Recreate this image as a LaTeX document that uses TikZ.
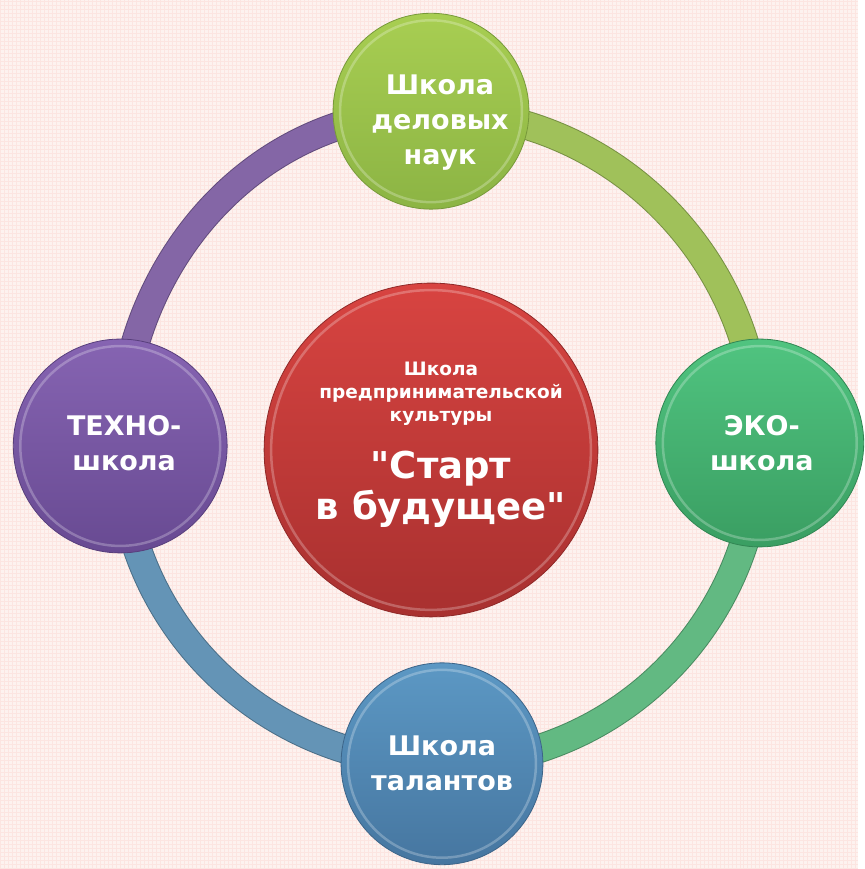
\documentclass[tikz,border=0pt]{standalone}
\usepackage{fontspec}
\setmainfont{DejaVu Sans}[Ligatures=TeXOff]
\usetikzlibrary{backgrounds}
\pgfdeclarelayer{bg}
\pgfsetlayers{bg,background,main}

\definecolor{bgpink}{RGB}{253,242,239}
\definecolor{gridpink}{RGB}{252,229,225}
\definecolor{redtop}{RGB}{216,68,65}
\definecolor{redbot}{RGB}{168,48,47}
\definecolor{limetop}{RGB}{168,206,82}
\definecolor{limebot}{RGB}{140,180,68}
\definecolor{greentop}{RGB}{80,196,128}
\definecolor{greenbot}{RGB}{58,158,98}
\definecolor{bluetop}{RGB}{92,152,196}
\definecolor{bluebot}{RGB}{70,118,160}
\definecolor{purpletop}{RGB}{134,100,178}
\definecolor{purplebot}{RGB}{104,74,146}
\definecolor{bandpurple}{RGB}{132,102,166}
\definecolor{bandlime}{RGB}{160,193,90}
\definecolor{bandgreen}{RGB}{98,185,130}
\definecolor{bandblue}{RGB}{100,148,182}

\tikzset{
	ball/.style 2 args={circle, inner sep=0pt, top color=#1, bottom color=#2, draw=#2!85!black, line width=.8pt},
	rim/.style={white, opacity=.25, line width=2.5pt},
	band/.style={draw=#1, line width=27pt, preaction={draw=#1!75!black, line width=29pt}},
	ballname/.style={text=white, align=center, font=\bfseries\fontsize{27}{35}\selectfont},
}

\begin{document}
\begin{tikzpicture}[x=1pt, y=1pt]

	\begin{pgfonlayer}{bg}
		\fill[bgpink] (0,0) rectangle (858,869);
		\draw[gridpink, line width=.6pt, step=4pt] (0,0) grid (858,869);
	\end{pgfonlayer}

	\node[ball={redtop}{redbot}, minimum size=334pt] (mid) at (431,419) {};
	\node[ball={limetop}{limebot}, minimum size=196pt] (top) at (431,758) {};
	\node[ball={purpletop}{purplebot}, minimum size=214pt] (left) at (120,423) {};
	\node[ball={greentop}{greenbot}, minimum size=208pt] (right) at (760,426) {};
	\node[ball={bluetop}{bluebot}, minimum size=202pt] (bottom) at (442,105) {};

	\foreach \n/\r in {mid/160, top/91, left/100, right/97, bottom/94}
		\draw[rim] (\n.center) circle[radius=\r pt];

	\begin{pgfonlayer}{background}
		\draw[band=bandpurple] (left.center) to[out=90, in=180] (top.center);
		\draw[band=bandlime] (top.center) to[out=0, in=90] (right.center);
		\draw[band=bandgreen] (right.center) to[out=-90, in=0] (bottom.center);
		\draw[band=bandblue] (bottom.center) to[out=180, in=-90] (left.center);
	\end{pgfonlayer}

	\node[ballname] (toptext) at (440,747) {Школа\\деловых\\наук};
	\node[ballname] (lefttext) at (124,426) {ТЕХНО-\\школа};
	\node[ballname] (righttext) at (762,426) {ЭКО-\\школа};
	\node[ballname] (bottomtext) at (442,105) {Школа\\талантов};

	\node[text=white, align=center, font=\bfseries\fontsize{18.5}{23}\selectfont] (midtitle) at (441,475) {Школа\\предпринимательской\\культуры};
	\node[text=white, align=center, font=\bfseries\fontsize{37}{41}\selectfont] (midname) at (441,380) {"Старт\\в будущее"};

\end{tikzpicture}
\end{document}
